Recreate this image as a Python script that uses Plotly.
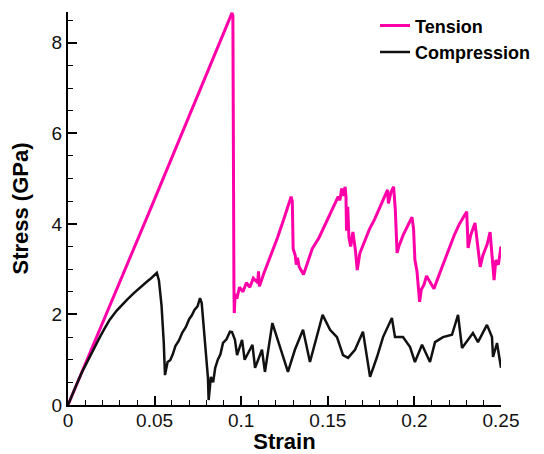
import plotly.graph_objects as go

# ---- data ----
tension_strain = [0.0, 0.0473, 0.0947, 0.0952, 0.0958, 0.0960, 0.0965, 0.0975, 0.0990, 0.1010,
                  0.1030, 0.1050, 0.1070, 0.1095, 0.1100, 0.1105, 0.1130, 0.1170, 0.1210, 0.1250,
                  0.1288, 0.1295, 0.1300, 0.1312, 0.1318, 0.1325, 0.1335, 0.1360, 0.1380, 0.1410,
                  0.1450, 0.1480, 0.1510, 0.1540, 0.1560, 0.1570, 0.1580, 0.1590, 0.1600, 0.1605,
                  0.1608, 0.1615, 0.1622, 0.1632, 0.1645, 0.1660, 0.1670, 0.1685, 0.1710, 0.1740,
                  0.1770, 0.1800, 0.1830, 0.1845, 0.1850, 0.1865, 0.1880, 0.1890, 0.1900, 0.1910,
                  0.1935, 0.1960, 0.1986, 0.1995, 0.2003, 0.2015, 0.2030, 0.2040, 0.2055, 0.2070,
                  0.2085, 0.2113, 0.2150, 0.2190, 0.2230, 0.2260, 0.2302, 0.2310, 0.2325, 0.2350,
                  0.2365, 0.2380, 0.2395, 0.2420, 0.2437, 0.2450, 0.2460, 0.2470, 0.2485, 0.2500]
tension_stress = [0.0, 4.30, 8.66, 8.60, 2.60, 2.03, 2.45, 2.35, 2.60, 2.50,
                  2.70, 2.60, 2.80, 2.70, 2.95, 2.62, 2.90, 3.30, 3.70, 4.15,
                  4.60, 4.50, 3.45, 3.30, 3.10, 3.25, 3.05, 2.88, 3.10, 3.45,
                  3.70, 3.95, 4.20, 4.45, 4.60, 4.52, 4.78, 4.62, 4.82, 4.60,
                  3.85, 4.38, 3.70, 3.50, 3.82, 3.40, 2.98, 3.35, 3.60, 3.88,
                  4.10, 4.35, 4.60, 4.75, 4.45, 4.70, 4.82, 4.30, 3.36, 3.50,
                  3.75, 3.95, 4.15, 3.90, 3.20, 2.95, 2.28, 2.55, 2.65, 2.85,
                  2.75, 2.57, 2.95, 3.35, 3.75, 4.00, 4.27, 3.47, 3.75, 4.02,
                  3.50, 3.05, 3.30, 3.55, 3.82, 3.30, 2.76, 3.20, 3.10, 3.50]

compression_strain = [0.0, 0.0025, 0.0050, 0.0080, 0.0115, 0.0146, 0.0180, 0.0210, 0.0240, 0.0280,
                      0.0310, 0.0340, 0.0380, 0.0430, 0.0460, 0.0480, 0.0500, 0.0513, 0.0525, 0.0540,
                      0.0553, 0.0560, 0.0575, 0.0590, 0.0605, 0.0620, 0.0640, 0.0660, 0.0680, 0.0700,
                      0.0715, 0.0730, 0.0748, 0.0762, 0.0772, 0.0790, 0.0808, 0.0812, 0.0825, 0.0838,
                      0.0850, 0.0865, 0.0880, 0.0895, 0.0915, 0.0935, 0.0947, 0.0964,
                      0.0976, 0.1005, 0.1020, 0.1065, 0.1080, 0.1120, 0.1137, 0.1180, 0.1215, 0.1253,
                      0.1270, 0.1310, 0.1357, 0.1397, 0.1426, 0.1470, 0.1513, 0.1553, 0.1588, 0.1617,
                      0.1657, 0.1703, 0.1744, 0.1784, 0.1819, 0.1870, 0.1888, 0.1934, 0.1975, 0.2003,
                      0.2044, 0.2090, 0.2119, 0.2165, 0.2217, 0.2252, 0.2275, 0.2338, 0.2367, 0.2419,
                      0.2448, 0.2454, 0.2477, 0.2500]
compression_stress = [0.0, 0.24, 0.46, 0.72, 0.99, 1.22, 1.47, 1.68, 1.88, 2.08,
                      2.21, 2.32, 2.47, 2.65, 2.74, 2.80, 2.86, 2.92, 2.75, 2.20,
                      1.37, 0.66, 0.95, 0.99, 1.12, 1.30, 1.42, 1.60, 1.72, 1.90,
                      1.98, 2.10, 2.18, 2.36, 2.25, 1.50, 0.60, 0.11, 0.62, 0.50,
                      0.82, 1.00, 1.12, 1.37, 1.45, 1.62, 1.61, 1.44,
                      1.10, 1.44, 1.00, 1.33, 0.82, 1.22, 0.73, 1.81, 1.37, 0.93,
                      0.73, 1.22, 1.66, 0.95, 1.37, 1.99, 1.66, 1.50, 1.10, 1.04,
                      1.22, 1.62, 0.62, 1.06, 1.50, 1.92, 1.50, 1.50, 1.28, 0.95,
                      1.33, 0.95, 1.39, 1.50, 1.55, 1.99, 1.26, 1.59, 1.39, 1.77,
                      1.50, 1.06, 1.37, 0.82]

x_tick_vals = [0, 0.05, 0.1, 0.15, 0.2, 0.25]
x_tick_text = ["0", "0.05", "0.1", "0.15", "0.2", "0.25"]
y_tick_vals = [0, 2, 4, 6, 8]
y_tick_text = ["0", "2", "4", "6", "8"]

FONT = "Liberation Sans, Arial, sans-serif"
PINK = "#FF00A8"

fig = go.Figure()
fig.add_trace(go.Scatter(x=tension_strain, y=tension_stress, mode="lines", name="Tension",
                         line=dict(color=PINK, width=3)))
fig.add_trace(go.Scatter(x=compression_strain, y=compression_stress, mode="lines", name="Compression",
                         line=dict(color="#111111", width=2.5)))

axis_common = dict(showline=True, linecolor="black", linewidth=2, ticks="inside", ticklen=9,
                   tickwidth=1.5, tickcolor="black", showgrid=False, zeroline=False, mirror=False,
                   automargin=False,
                   tickfont=dict(family=FONT, size=19, color="#111111"))

fig.update_xaxes(range=[0, 0.25], tickvals=x_tick_vals, ticktext=x_tick_text,
                 minor=dict(dtick=0.01, tick0=0, ticks="inside", ticklen=5, tickwidth=1, tickcolor="black"),
                 ticklabelstandoff=-3,
                 title=dict(text="Strain", font=dict(family=FONT, size=22, color="black", weight="bold"), standoff=4),
                 **axis_common)
fig.update_yaxes(range=[0, 8.68], tickvals=y_tick_vals, ticktext=y_tick_text,
                 minor=dict(dtick=0.5, tick0=0, ticks="inside", ticklen=5, tickwidth=1, tickcolor="black"),
                 title=dict(text="Stress (GPa)", font=dict(family=FONT, size=22, color="black", weight="bold"), standoff=17),
                 **axis_common)

# the page body has an 8px margin, so the figure is drawn 8px in from the window's corner
fig.update_layout(
    width=536, height=446,
    margin=dict(l=60, r=43, t=4, b=49, autoexpand=False),
    plot_bgcolor="white", paper_bgcolor="white",
    showlegend=True,
    legend=dict(x=0.709, y=1.012, xanchor="left", yanchor="top", bgcolor="rgba(0,0,0,0)",
                font=dict(family=FONT, size=18, color="black", weight="bold"),
                tracegroupgap=0, itemwidth=30),
)

fig.write_html("out.html")
